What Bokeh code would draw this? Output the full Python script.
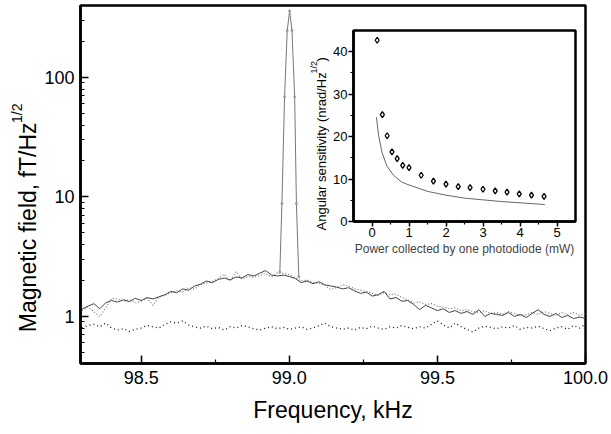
import math
from bokeh.plotting import figure
from bokeh.models import Range1d, FixedTicker, PrintfTickFormatter, BasicTickFormatter, Title
from bokeh.layouts import column
from bokeh.embed import file_html
from bokeh.resources import INLINE

# ---------------- main spectrum data ----------------
freq = [98.30, 98.32, 98.34, 98.36, 98.38, 98.40, 98.42, 98.44, 98.46, 98.48,
        98.50, 98.52, 98.54, 98.56, 98.58, 98.60, 98.62, 98.64, 98.66, 98.68,
        98.70, 98.72, 98.74, 98.76, 98.78, 98.80, 98.82, 98.84, 98.86, 98.88,
        98.90, 98.92, 98.94, 98.96, 98.98, 99.00, 99.02, 99.04, 99.06, 99.08,
        99.10, 99.12, 99.14, 99.16, 99.18, 99.20, 99.22, 99.24, 99.26, 99.28,
        99.30, 99.32, 99.34, 99.36, 99.38, 99.40, 99.42, 99.44, 99.46, 99.48,
        99.50, 99.52, 99.54, 99.56, 99.58, 99.60, 99.62, 99.64, 99.66, 99.68,
        99.70, 99.72, 99.74, 99.76, 99.78, 99.80, 99.82, 99.84, 99.86, 99.88,
        99.90, 99.92, 99.94, 99.96, 99.98, 100.00]

solid_trace = [1.15, 1.22, 1.28, 1.16, 1.30, 1.36, 1.32, 1.38, 1.33, 1.42,
               1.36, 1.44, 1.40, 1.46, 1.52, 1.62, 1.58, 1.70, 1.66, 1.80,
               1.86, 1.98, 1.92, 2.04, 2.10, 2.02, 2.14, 2.10, 2.24, 2.18,
               2.30, 2.42, 2.22, 2.18, 2.22, 2.16, 2.08, 1.92, 1.98, 1.88,
               1.95, 1.84, 1.80, 1.76, 1.70, 1.74, 1.64, 1.56, 1.60, 1.48,
               1.52, 1.62, 1.40, 1.44, 1.34, 1.36, 1.26, 1.14, 1.24, 1.18,
               1.12, 1.16, 1.08, 1.12, 1.06, 1.10, 1.04, 1.14, 1.00, 1.06,
               1.04, 1.02, 1.08, 1.00, 1.04, 0.98, 1.06, 1.14, 1.04, 1.00,
               1.06, 0.98, 1.02, 0.96, 0.99, 0.96]

dotted_trace = [1.12, 1.20, 1.10, 1.00, 1.18, 1.42, 1.40, 1.34, 1.38, 1.30,
                1.34, 1.42, 1.24, 1.46, 1.50, 1.58, 1.64, 1.60, 1.74, 1.70,
                1.84, 1.90, 1.96, 2.08, 2.26, 1.98, 2.36, 2.06, 2.16, 2.12,
                2.20, 2.28, 2.14, 2.32, 2.30, 2.24, 2.12, 1.98, 2.02, 1.94,
                1.90, 1.82, 1.68, 1.74, 1.84, 1.80, 1.70, 1.66, 1.62, 1.56,
                1.50, 1.58, 1.52, 1.54, 1.44, 1.38, 1.30, 1.32, 1.26, 1.28,
                1.22, 1.20, 1.16, 1.18, 1.12, 1.14, 1.10, 1.08, 1.12, 1.06,
                1.08, 1.04, 1.10, 1.06, 1.02, 1.04, 1.08, 1.04, 1.10, 1.06,
                1.02, 1.08, 1.04, 1.08, 1.02, 1.06]

noise_floor = [0.80, 0.84, 0.86, 0.82, 0.88, 0.80, 0.77, 0.79, 0.75, 0.78,
               0.80, 0.84, 0.82, 0.80, 0.86, 0.90, 0.88, 0.92, 0.85, 0.82,
               0.80, 0.83, 0.79, 0.81, 0.77, 0.82, 0.80, 0.84, 0.82, 0.79,
               0.77, 0.80, 0.82, 0.79, 0.81, 0.78, 0.80, 0.82, 0.78, 0.80,
               0.84, 0.88, 0.82, 0.80, 0.78, 0.80, 0.77, 0.81, 0.79, 0.83,
               0.80, 0.78, 0.82, 0.80, 0.84, 0.81, 0.79, 0.82, 0.80, 0.86,
               0.92, 0.85, 0.80, 0.88, 0.82, 0.78, 0.74, 0.80, 0.83, 0.81,
               0.79, 0.82, 0.80, 0.84, 0.78, 0.81, 0.80, 0.83, 0.79, 0.76,
               0.80, 0.82, 0.78, 0.84, 0.80, 0.86]

peak_freq = [98.968, 98.975, 98.984, 98.993, 99.001, 99.009, 99.018, 99.024, 99.032]
peak_field = [2.35, 8.8, 69.0, 247.0, 360.0, 247.0, 69.0, 8.8, 2.15]

x_ticks = [98.5, 99.0, 99.5, 100.0]
x_minor = [98.75, 99.25, 99.75]
y_ticks = [1, 10, 100]
y_minor = [0.5, 0.6, 0.7, 0.8, 0.9, 2, 3, 4, 5, 6, 7, 8, 9,
           20, 30, 40, 50, 60, 70, 80, 90, 200, 300]

# ---------------- inset data ----------------
power_meas = [0.14, 0.28, 0.41, 0.54, 0.68, 0.83, 1.00, 1.33, 1.66, 2.00,
              2.33, 2.65, 3.00, 3.33, 3.65, 3.98, 4.31, 4.65]
sens_meas = [42.7, 25.2, 20.2, 16.4, 14.8, 13.2, 12.7, 10.9, 9.5, 8.8,
             8.2, 8.0, 7.6, 7.2, 6.9, 6.5, 6.2, 5.9]
power_theory = [0.12, 0.18, 0.27, 0.40, 0.58, 0.80, 1.00, 1.50, 2.00, 2.50,
                3.00, 3.50, 4.00, 4.67]
sens_theory = [24.6, 20.2, 16.3, 13.1, 10.9, 9.3, 8.6, 7.1, 6.2, 5.5,
               5.1, 4.7, 4.4, 4.0]

FONT = "Liberation Sans"

# ---------------- main figure ----------------
W, H = 611, 430
ML, MR, MT, MB = 80, 26, 5, 67
XMIN, XMAX = 98.295, 100.0
YMIN, YMAX = 0.404, 400.0

p = figure(width=W, height=H, y_axis_type="log",
           x_range=Range1d(XMIN, XMAX), y_range=Range1d(YMIN, YMAX),
           output_backend="svg", toolbar_location=None,
           min_border_left=ML, min_border_right=MR,
           min_border_top=MT, min_border_bottom=MB)
p.xgrid.visible = False
p.ygrid.visible = False
p.outline_line_color = "black"
p.outline_line_width = 2.5
p.background_fill_color = "white"

p.line(freq, noise_floor, color="#1a1a1a", line_width=1.3, line_dash="1 3")
p.line(freq, dotted_trace, color="#777777", line_width=1.2, line_dash="1 2")
p.line(freq, solid_trace, color="#444444", line_width=1.0)
p.line(peak_freq, peak_field, color="#777777", line_width=1.0)
p.scatter(peak_freq, peak_field, size=2, color="#999999")

p.xaxis.ticker = FixedTicker(ticks=x_ticks, minor_ticks=x_minor)
p.xaxis.formatter = PrintfTickFormatter(format="%.1f")
p.yaxis.ticker = FixedTicker(ticks=y_ticks, minor_ticks=y_minor)
p.yaxis.formatter = BasicTickFormatter()

for ax in (p.xaxis[0], p.yaxis[0]):
    ax.axis_line_width = 2.5
    ax.axis_line_color = "black"
    ax.major_tick_line_width = 1.5
    ax.minor_tick_line_width = 1.2
    ax.major_tick_in = 8
    ax.major_tick_out = 0
    ax.minor_tick_in = 4
    ax.minor_tick_out = 0
    ax.major_label_text_font = FONT
    ax.major_label_text_font_size = "18px"
    ax.major_label_text_color = "black"
p.xaxis.major_label_standoff = 7
p.yaxis.major_label_standoff = 6
p.xaxis.axis_label = "Frequency, kHz"
p.xaxis.axis_label_text_font = FONT
p.xaxis.axis_label_text_font_size = "23px"
p.xaxis.axis_label_text_font_style = "normal"
p.xaxis.axis_label_text_color = "black"
p.xaxis.axis_label_standoff = 10

# y-axis label with a raised "1/2", as two stacked side titles
p.add_layout(Title(text="Magnetic field, fT/Hz", align="right", offset=117,
                   standoff=2, text_font=FONT, text_font_size="23px",
                   text_font_style="normal", text_color="black"), "left")
p.add_layout(Title(text="1/2", align="right", offset=98,
                   standoff=-26, text_font=FONT, text_font_size="14px",
                   text_font_style="normal", text_color="black"), "left")

# ---------------- inset figure (absolutely positioned over the main plot) ----------------
QL, QR, QT, QB = 70, 14, 22, 36
q = figure(frame_width=222, frame_height=191,
           x_range=Range1d(-0.5, 5.5), y_range=Range1d(0, 45),
           output_backend="svg", toolbar_location=None,
           min_border_left=QL, min_border_right=QR,
           min_border_top=QT, min_border_bottom=QB,
           styles={"position": "absolute", "left": "273px", "top": "8px"})
q.xgrid.visible = False
q.ygrid.visible = False
q.outline_line_color = "black"
q.outline_line_width = 2.5
q.border_fill_alpha = 0
q.background_fill_color = "white"

q.line(power_theory, sens_theory, color="#666666", line_width=1.0)
q.scatter(power_meas, sens_meas, marker="diamond", size=6,
          line_color="black", fill_color="white", line_width=1.3)

q.xaxis.ticker = FixedTicker(ticks=[0, 1, 2, 3, 4, 5], minor_ticks=[0.5, 1.5, 2.5, 3.5, 4.5])
q.yaxis.ticker = FixedTicker(ticks=[0, 10, 20, 30, 40], minor_ticks=[5, 15, 25, 35])
for ax in (q.xaxis[0], q.yaxis[0]):
    ax.axis_line_width = 2.5
    ax.major_tick_line_width = 1.5
    ax.minor_tick_line_width = 1.2
    ax.major_tick_in = 0
    ax.major_tick_out = 5
    ax.minor_tick_in = 0
    ax.minor_tick_out = 3
    ax.major_label_standoff = 1
    ax.major_label_text_font = FONT
    ax.major_label_text_font_size = "13px"
    ax.major_label_text_color = "black"
q.xaxis.axis_label = "Power collected by one photodiode (mW)"
q.xaxis.axis_label_text_font = FONT
q.xaxis.axis_label_text_font_size = "12px"
q.xaxis.axis_label_text_font_style = "normal"
q.xaxis.axis_label_standoff = 2

q.add_layout(Title(text="Angular sensitivity (nrad/Hz\u00a0\u00a0\u00a0)", align="left",
                   offset=-9, standoff=3, text_font=FONT, text_font_size="13px",
                   text_font_style="normal", text_color="black"), "left")
q.add_layout(Title(text="1/2", align="left", offset=148,
                   standoff=-17, text_font=FONT, text_font_size="9px",
                   text_font_style="normal", text_color="black"), "left")

layout = column(p, q)
open("out.html", "w").write(file_html(layout, INLINE))
